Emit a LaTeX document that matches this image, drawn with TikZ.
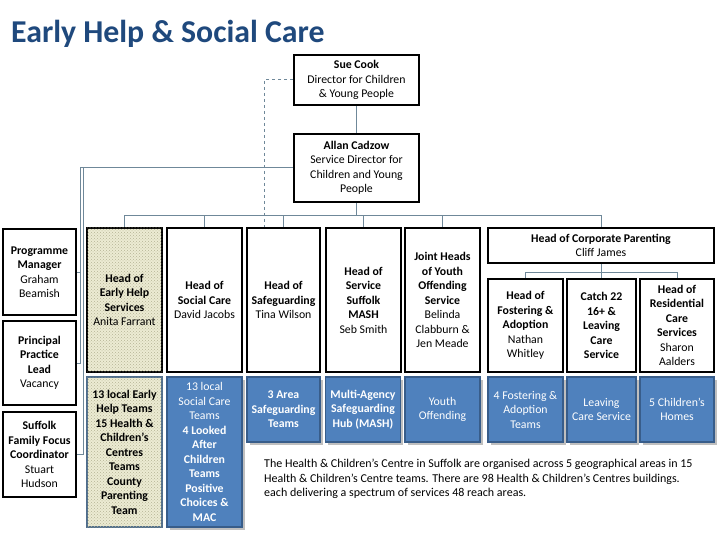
\documentclass[tikz,border=0pt]{standalone}
\usepackage{fontspec}
\setmainfont{Carlito}
\usetikzlibrary{patterns,calc}
\definecolor{titleblue}{HTML}{1F497D}
\definecolor{boxblue}{HTML}{4F81BD}
\definecolor{boxblueedge}{HTML}{385D8A}
\definecolor{lineblue}{HTML}{6F8899}
\definecolor{ehfill}{HTML}{ECEBD3}
\definecolor{ehdots}{HTML}{B4B394}
\definecolor{ehedge}{HTML}{4F6D8C}
\tikzset{
  txt/.style={font=\fontsize{11.8}{14.5}\selectfont, align=center, inner sep=1pt},
  blackbox/.style={txt, draw=black, line width=2pt, fill=white},
  bluebox/.style={txt, draw=boxblueedge, line width=1.5pt, fill=boxblue, text=white},
  ehbox/.style={txt, line width=2pt, fill=ehfill, postaction={pattern=crosshatch dots, pattern color=ehdots}},
  conn/.style={draw=lineblue, line width=1pt},
  dconn/.style={draw=lineblue, line width=1pt, dashed},
}
\begin{document}
\begin{tikzpicture}[x=1pt,y=-1pt]
\path[use as bounding box] (0,0) rectangle (720,540);
\fill[white] (0,0) rectangle (720,540);

\node[anchor=base west, inner sep=0, text=titleblue, font=\fontsize{31.8}{36}\selectfont\bfseries] (title) at (11,43) {Early Help \& Social Care};

% top boxes
\node[blackbox, minimum width=125, minimum height=50] (sue) at (356.5,80) {\textbf{Sue Cook}\\Director for Children\\\& Young People};
\node[blackbox, minimum width=125, minimum height=68] (allan) at (356.5,168) {\textbf{Allan Cadzow}\\Service Director for\\Children and Young\\People};

% left column
\node[blackbox, minimum width=73, minimum height=86] (prog) at (39.5,272) {\textbf{Programme}\\\textbf{Manager}\\Graham\\Beamish};
\node[blackbox, minimum width=73, minimum height=84] (princ) at (39.5,363) {\textbf{Principal}\\\textbf{Practice}\\\textbf{Lead}\\Vacancy};
\node[blackbox, minimum width=73, minimum height=85] (suff) at (39.5,454.5) {\textbf{Suffolk}\\\textbf{Family Focus}\\\textbf{Coordinator}\\Stuart\\Hudson};

% heads row
\node[ehbox, draw=black, minimum width=75, minimum height=144] (eh) at (124.5,300) {\textbf{Head of}\\\textbf{Early Help}\\\textbf{Services}\\Anita Farrant};
\node[blackbox, minimum width=75, minimum height=144] (sc) at (204.5,300) {\textbf{Head of}\\\textbf{Social Care}\\David Jacobs};
\node[blackbox, minimum width=73, minimum height=144] (safe) at (283.5,300) {\textbf{Head of}\\\textbf{Safeguarding}\\Tina Wilson};
\node[blackbox, minimum width=75, minimum height=144] (mash) at (363.5,300) {\textbf{Head of}\\\textbf{Service}\\\textbf{Suffolk}\\\textbf{MASH}\\Seb Smith};
\node[blackbox, minimum width=75, minimum height=144] (yot) at (442.5,300) {\textbf{Joint Heads}\\\textbf{of Youth}\\\textbf{Offending}\\\textbf{Service}\\Belinda\\Clabburn \&\\Jen Meade};
\node[blackbox, minimum width=226, minimum height=35] (corp) at (601,245.5) {\textbf{Head of Corporate Parenting}\\Cliff James};
\node[blackbox, minimum width=75, minimum height=93] (fost) at (525.5,325.5) {\textbf{Head of}\\\textbf{Fostering \&}\\\textbf{Adoption}\\Nathan\\Whitley};
\node[blackbox, minimum width=69, minimum height=93] (catch) at (601.5,325.5) {\textbf{Catch 22}\\\textbf{16+ \&}\\\textbf{Leaving}\\\textbf{Care}\\\textbf{Service}};
\node[blackbox, minimum width=74, minimum height=93] (resi) at (677,325.5) {\textbf{Head of}\\\textbf{Residential}\\\textbf{Care}\\\textbf{Services}\\Sharon\\Aalders};

% bottom row shadows
\foreach \cx/\w/\h/\cy in {204.5/75/150/452, 283.5/73/65/409.5, 363/75/65/409.5, 442.5/75/65/409.5, 525.5/75/65/409.5, 601.5/69/65/409.5, 677/74/65/409.5}{
  \fill[black!25] (\cx-\w/2+2.5,\cy-\h/2+2.5) rectangle (\cx+\w/2+2.5,\cy+\h/2+2.5);
}

% bottom row
\node[ehbox, draw=ehedge, minimum width=75, minimum height=150] (ehl) at (124.5,452) {\textbf{13 local Early}\\\textbf{Help Teams}\\\textbf{15 Health \&}\\\textbf{Children’s}\\\textbf{Centres}\\\textbf{Teams}\\\textbf{County}\\\textbf{Parenting}\\\textbf{Team}};
\node[bluebox, minimum width=75, minimum height=150] (scl) at (204.5,452) {13 local\\Social Care\\Teams\\\textbf{4 Looked}\\\textbf{After}\\\textbf{Children}\\\textbf{Teams}\\\textbf{Positive}\\\textbf{Choices \&}\\\textbf{MAC}};
\node[bluebox, minimum width=73, minimum height=65] (safel) at (283.5,409.5) {\textbf{3 Area}\\\textbf{Safeguarding}\\\textbf{Teams}};
\node[bluebox, minimum width=75, minimum height=65] (mashl) at (363,409.5) {\textbf{Multi-Agency}\\\textbf{Safeguarding}\\\textbf{Hub (MASH)}};
\node[bluebox, minimum width=75, minimum height=65] (yotl) at (442.5,409.5) {Youth\\Offending};
\node[bluebox, minimum width=75, minimum height=65] (fostl) at (525.5,409.5) {4 Fostering \&\\Adoption\\Teams};
\node[bluebox, minimum width=69, minimum height=65] (leavl) at (601.5,409.5) {Leaving\\Care Service};
\node[bluebox, minimum width=74, minimum height=65] (homel) at (677,409.5) {5 Children’s\\Homes};

% paragraph
\node[anchor=north west, inner sep=0, align=left, font=\fontsize{12}{14.5}\selectfont] (para) at (264,459)
 {The Health \& Children’s Centre in Suffolk are organised across 5 geographical areas in 15\\
  Health \& Children’s Centre teams. There are 98 Health \& Children's Centres buildings.\\
  each delivering a spectrum of services 48 reach areas.};

% connectors
\draw[conn] (sue.south) -- (allan.north);
\draw[dconn] (sue.west) -| ([xshift=-19.5pt]safe.north);
\coordinate (laneA) at (80,168);
\coordinate (laneB) at (83,168);
\draw[conn] (allan.west) -- (laneA);
\draw[conn] (laneA) |- (prog.east);
\draw[conn] (laneA) |- (princ.east);
\draw[conn] (laneB) |- (suff.east);
\coordinate (bus) at (356.5,216);
\draw[conn] (allan.south) -- (bus);
\foreach \n in {eh,sc,safe,mash,yot,corp}{
  \draw[conn] (bus) -| (\n.north);
}
\coordinate (sbus) at (601,272);
\draw[conn] (corp.south) -- (sbus);
\foreach \n in {fost,catch,resi}{
  \draw[conn] (sbus) -| (\n.north);
}
\end{tikzpicture}
\end{document}
